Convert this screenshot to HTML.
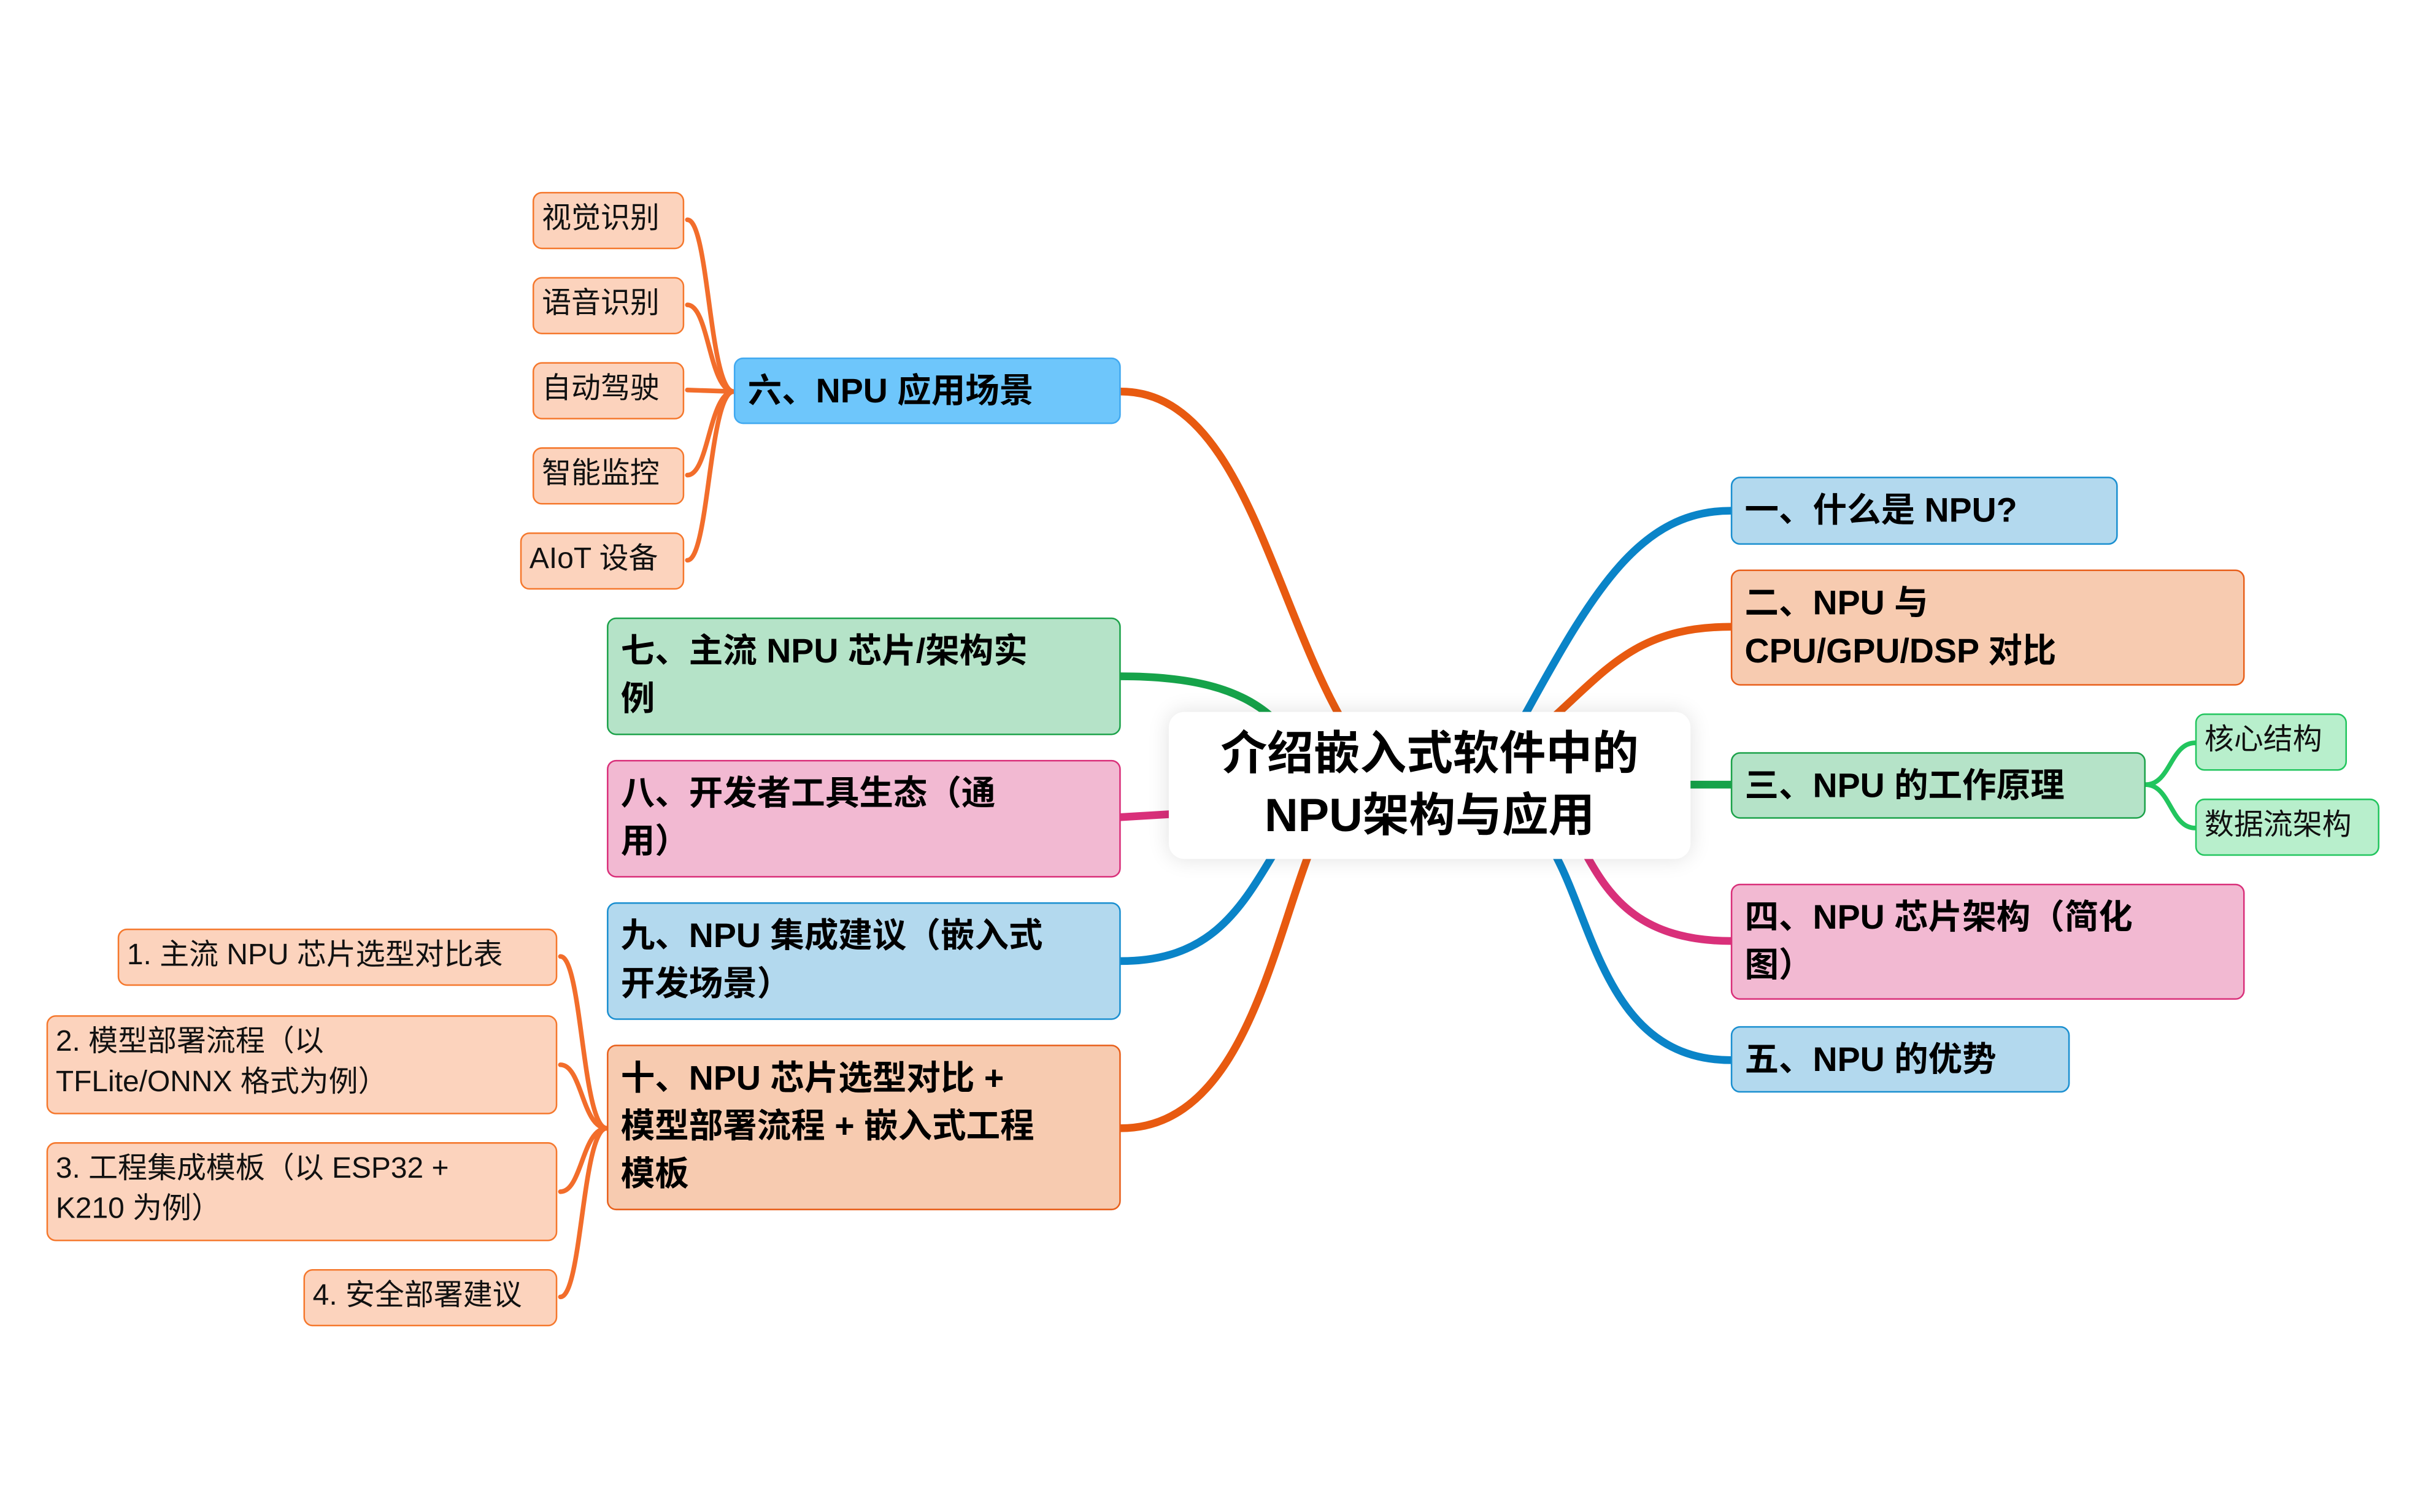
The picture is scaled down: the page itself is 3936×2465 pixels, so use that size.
<!DOCTYPE html>
<html><head><meta charset="utf-8"><style>
html,body{margin:0;padding:0;background:#fff;}
body{width:3936px;height:2464px;overflow:hidden;position:relative;}
#w{position:absolute;left:0;top:0;width:1560px;height:977px;transform:scale(2.5231);transform-origin:0 0;font-family:"Liberation Sans","Noto Sans CJK SC",sans-serif;}
.n{position:absolute;box-sizing:border-box;border-radius:6px;border:1.3px solid;font-weight:bold;font-size:22px;line-height:31px;padding:5px 8px;color:#000;white-space:nowrap;}
.s{position:absolute;box-sizing:border-box;border-radius:6px;border:1.3px solid;font-size:19px;line-height:26px;padding:4px 5px;color:#111;white-space:nowrap;}
.b{background:#b3d9ee;border-color:#1a8fd0;}
.o{background:#f7cbb0;border-color:#e8601c;}
.g{background:#b5e3c8;border-color:#1ca24a;}
.p{background:#f2b9d2;border-color:#d9307a;}
.bb{background:#6ec6fb;border-color:#41a9f0;}
.sp{background:#fcd3bd;border-color:#f5782d;}
.sg{background:#b8efcc;border-color:#22c55e;}
svg{position:absolute;left:0;top:0;}
</style></head><body><div id="w">
<svg width="1560" height="977" fill="none" stroke-linecap="round">
<g stroke-width="5">
<path d="M1118,330 C1060,330 1030,380 985,462" stroke="#0a84c8"/>
<path d="M1118,405 C1060,405 1040,430 1005,462" stroke="#e85a10"/>
<path d="M1118,507 L1092,507" stroke="#16a34a"/>
<path d="M1118,608 C1060,608 1040,580 1025,553" stroke="#d9307a"/>
<path d="M1118,685 C1040,685 1030,600 1005,553" stroke="#0a84c8"/>
<path d="M724,253 C800,253 820,380 865,462" stroke="#e85a10"/>
<path d="M724,437 C770,437 800,445 820,462" stroke="#16a34a"/>
<path d="M724,528 L757,526" stroke="#d9307a"/>
<path d="M724,621 C780,621 800,590 822,553" stroke="#0a84c8"/>
<path d="M724,729 C800,729 820,620 845,553" stroke="#e85a10"/>
</g>
<g stroke-width="3" stroke="#f26d2b">
<path d="M474,253 C458,253 458,142 444,142"/>
<path d="M474,253 C458,253 458,197 444,197"/>
<path d="M474,253 L444,252"/>
<path d="M474,253 C458,253 458,307 444,307"/>
<path d="M474,253 C458,253 458,362 444,362"/>
<path d="M392,729 C376,729 376,618 362,618"/>
<path d="M392,729 C376,729 376,688 362,688"/>
<path d="M392,729 C376,729 376,770 362,770"/>
<path d="M392,729 C376,729 376,838 362,838"/>
</g>
<g stroke-width="3" stroke="#22c55e">
<path d="M1386,507 C1402,507 1402,480 1418,480"/>
<path d="M1386,507 C1402,507 1402,535 1418,535"/>
</g>
</svg>
<div style="position:absolute;left:755px;top:460px;width:337px;height:95px;background:#fff;border-radius:10px;box-shadow:0 0 14px rgba(0,0,0,0.12);text-align:center;font-weight:bold;font-size:30px;line-height:40px;padding-top:8px;box-sizing:border-box;">介绍嵌入式软件中的<br>NPU架构与应用</div>

<div class="n b" style="left:1118px;top:308px;width:250px;height:44px;">一、什么是 NPU?</div>
<div class="n o" style="left:1118px;top:368px;width:332px;height:75px;">二、NPU 与<br>CPU/GPU/DSP 对比</div>
<div class="n g" style="left:1118px;top:486px;width:268px;height:43px;">三、NPU 的工作原理</div>
<div class="n p" style="left:1118px;top:571px;width:332px;height:75px;">四、NPU 芯片架构（简化<br>图）</div>
<div class="n b" style="left:1118px;top:663px;width:219px;height:43px;">五、NPU 的优势</div>
<div class="s sg" style="left:1418px;top:461px;width:98px;height:37px;">核心结构</div>
<div class="s sg" style="left:1418px;top:516px;width:119px;height:37px;">数据流架构</div>

<div class="n bb" style="left:474px;top:231px;width:250px;height:43px;">六、NPU 应用场景</div>
<div class="n g" style="left:392px;top:399px;width:332px;height:76px;">七、主流 NPU 芯片/架构实<br>例</div>
<div class="n p" style="left:392px;top:491px;width:332px;height:76px;">八、开发者工具生态（通<br>用）</div>
<div class="n b" style="left:392px;top:583px;width:332px;height:76px;">九、NPU 集成建议（嵌入式<br>开发场景）</div>
<div class="n o" style="left:392px;top:675px;width:332px;height:107px;">十、NPU 芯片选型对比 +<br>模型部署流程 + 嵌入式工程<br>模板</div>

<div class="s sp" style="left:344px;top:124px;width:98px;height:37px;">视觉识别</div>
<div class="s sp" style="left:344px;top:179px;width:98px;height:37px;">语音识别</div>
<div class="s sp" style="left:344px;top:234px;width:98px;height:37px;">自动驾驶</div>
<div class="s sp" style="left:344px;top:289px;width:98px;height:37px;">智能监控</div>
<div class="s sp" style="left:336px;top:344px;width:106px;height:37px;">AIoT 设备</div>

<div class="s sp" style="left:76px;top:600px;width:284px;height:37px;">1. 主流 NPU 芯片选型对比表</div>
<div class="s sp" style="left:30px;top:656px;width:330px;height:64px;">2. 模型部署流程（以<br>TFLite/ONNX 格式为例）</div>
<div class="s sp" style="left:30px;top:738px;width:330px;height:64px;">3. 工程集成模板（以 ESP32 +<br>K210 为例）</div>
<div class="s sp" style="left:196px;top:820px;width:164px;height:37px;">4. 安全部署建议</div>
</div></body></html>
